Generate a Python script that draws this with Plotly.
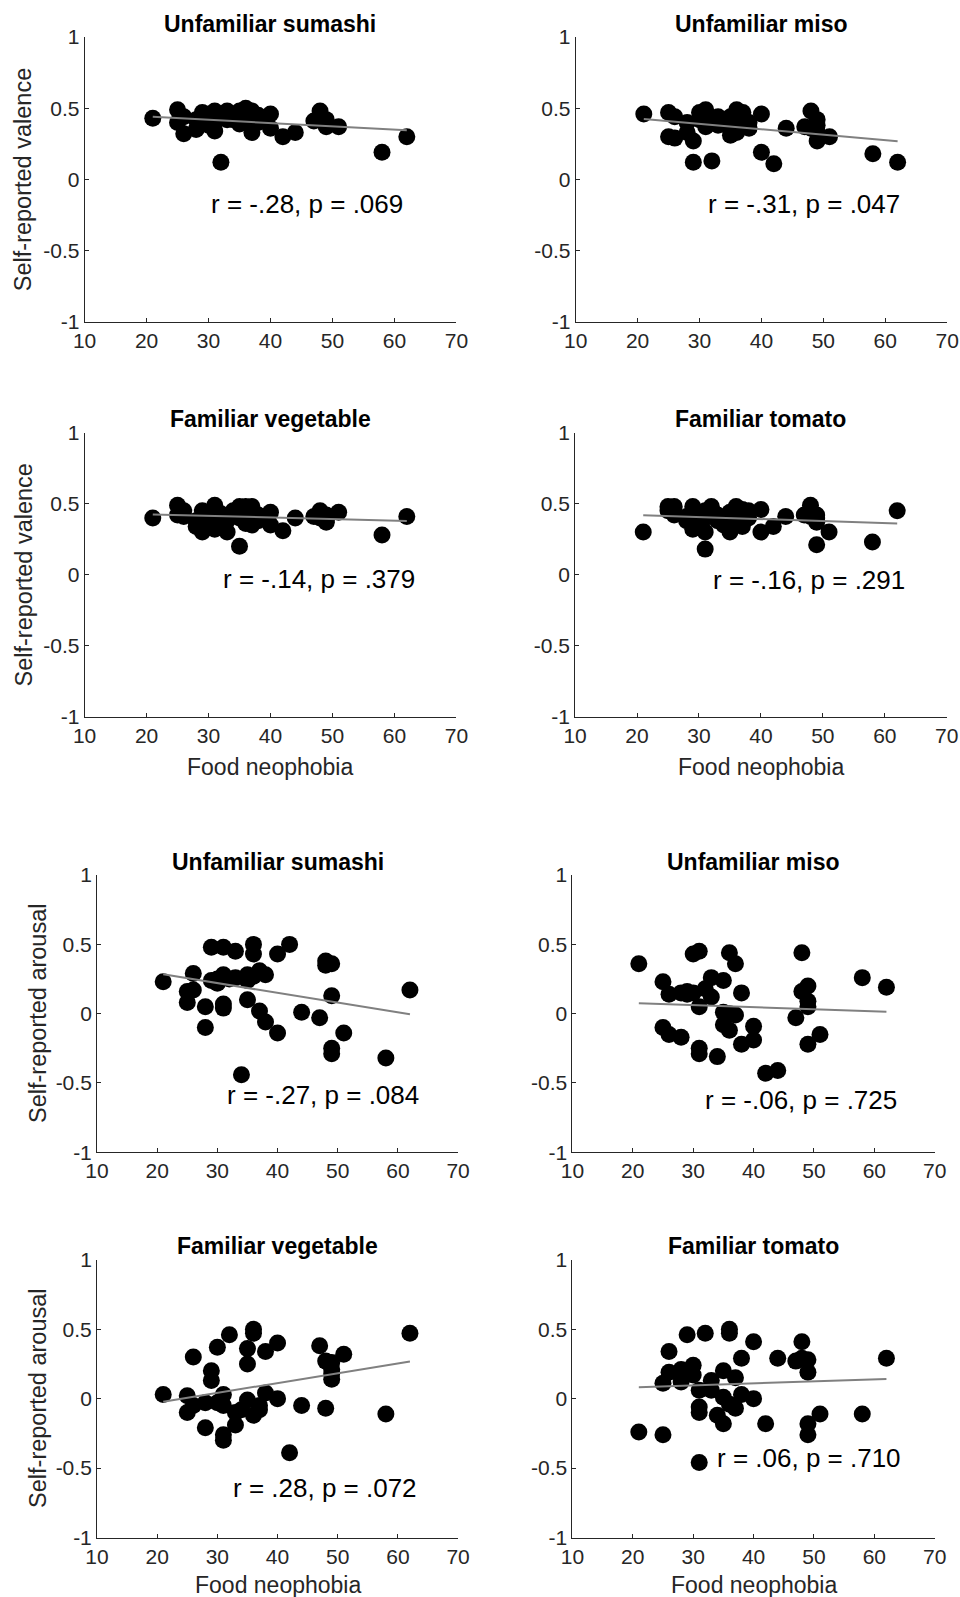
import plotly.graph_objects as go

# ---------------- data ----------------
neophobia = [21, 25, 25, 26, 26, 28, 28, 29, 29, 30, 30, 31, 31, 31, 31, 32, 33, 33, 34,
             35, 35, 35, 36, 36, 36, 37, 37, 38, 38, 40, 40, 42, 44, 47, 48, 48,
             49, 49, 49, 49, 51, 58, 62]

valence_sumashi = [0.43, 0.49, 0.40, 0.32, 0.44, 0.35, 0.42, 0.47, 0.40, 0.46, 0.38,
                   0.45, 0.34, 0.48, 0.40, 0.12, 0.48, 0.42, 0.42, 0.46, 0.39, 0.48,
                   0.47, 0.50, 0.41, 0.48, 0.33, 0.45, 0.40, 0.46, 0.36, 0.30, 0.33,
                   0.41, 0.48, 0.43, 0.37, 0.42, 0.38, 0.40, 0.37, 0.19, 0.30]
valence_miso = [0.46, 0.47, 0.30, 0.44, 0.29, 0.40, 0.33, 0.27, 0.12, 0.47, 0.42,
                0.49, 0.37, 0.45, 0.40, 0.13, 0.44, 0.38, 0.40, 0.31, 0.35, 0.44,
                0.49, 0.33, 0.45, 0.47, 0.37, 0.40, 0.36, 0.46, 0.19, 0.11, 0.36,
                0.37, 0.48, 0.36, 0.42, 0.27, 0.38, 0.33, 0.30, 0.18, 0.12]
valence_vegetable = [0.40, 0.49, 0.42, 0.45, 0.41, 0.34, 0.38, 0.45, 0.30, 0.36, 0.42,
                     0.49, 0.32, 0.40, 0.35, 0.43, 0.30, 0.38, 0.45, 0.48, 0.20, 0.40,
                     0.48, 0.36, 0.44, 0.48, 0.35, 0.42, 0.38, 0.44, 0.35, 0.31, 0.40,
                     0.41, 0.45, 0.40, 0.38, 0.42, 0.40, 0.37, 0.44, 0.28, 0.41]
valence_tomato = [0.30, 0.48, 0.45, 0.48, 0.42, 0.38, 0.41, 0.48, 0.32, 0.36, 0.42,
                  0.18, 0.30, 0.40, 0.45, 0.48, 0.38, 0.42, 0.35, 0.30, 0.44, 0.40,
                  0.48, 0.46, 0.38, 0.34, 0.46, 0.45, 0.40, 0.46, 0.30, 0.34, 0.41,
                  0.42, 0.49, 0.41, 0.40, 0.21, 0.37, 0.42, 0.30, 0.23, 0.45]
arousal_sumashi = [0.23, 0.16, 0.08, 0.29, 0.17, 0.05, -0.10, 0.48, 0.24, 0.22, 0.25,
                   0.48, 0.28, 0.07, 0.04, 0.25, 0.45, 0.26, -0.44, 0.28, 0.24, 0.10,
                   0.50, 0.43, 0.27, 0.31, 0.02, 0.28, -0.06, 0.43, -0.14, 0.50, 0.01,
                   -0.03, 0.38, 0.35, 0.36, 0.13, -0.25, -0.29, -0.14, -0.32, 0.17]
arousal_miso = [0.36, 0.23, -0.10, 0.14, -0.15, 0.15, -0.17, 0.16, 0.14, 0.43, 0.15,
                0.45, 0.05, -0.25, -0.29, 0.18, 0.26, 0.12, -0.31, 0.24, 0.01, -0.08,
                0.44, -0.12, 0.00, 0.36, -0.01, 0.15, -0.22, -0.09, -0.19, -0.43, -0.41,
                -0.03, 0.44, 0.16, 0.20, 0.09, 0.05, -0.22, -0.15, 0.26, 0.19]
arousal_vegetable = [0.03, 0.02, -0.10, 0.30, -0.05, -0.03, -0.21, 0.20, 0.13, 0.37, -0.03,
                     0.03, -0.05, -0.26, -0.30, 0.46, -0.19, -0.10, -0.08, 0.36, 0.25, -0.01,
                     0.50, 0.47, -0.12, -0.08, -0.05, 0.34, 0.04, 0.40, 0.00, -0.39, -0.05,
                     0.38, 0.27, -0.07, 0.26, 0.21, 0.14, 0.18, 0.32, -0.11, 0.47]
arousal_tomato = [-0.24, -0.26, 0.11, 0.34, 0.19, 0.21, 0.12, 0.46, 0.20, 0.24, 0.17,
                  0.06, -0.06, -0.10, -0.46, 0.47, 0.13, 0.06, -0.12, 0.20, 0.01, -0.18,
                  0.50, 0.47, -0.04, 0.15, -0.07, 0.29, 0.03, 0.41, 0.00, -0.18, 0.29,
                  0.27, 0.41, 0.29, 0.28, 0.19, -0.18, -0.26, -0.11, -0.11, 0.29]

# regression line end points (x = 21 and x = 62)
fit_x = [21, 62]
fit_valence_sumashi = [0.44, 0.345]
fit_valence_miso = [0.425, 0.268]
fit_valence_vegetable = [0.424, 0.379]
fit_valence_tomato = [0.419, 0.36]
fit_arousal_sumashi = [0.284, -0.005]
fit_arousal_miso = [0.075, 0.014]
fit_arousal_vegetable = [-0.022, 0.267]
fit_arousal_tomato = [0.082, 0.142]

titles = ["Unfamiliar sumashi", "Unfamiliar miso", "Familiar vegetable", "Familiar tomato",
          "Unfamiliar sumashi", "Unfamiliar miso", "Familiar vegetable", "Familiar tomato"]
stats = ["r = -.28, p = .069", "r = -.31, p = .047", "r = -.14, p = .379", "r = -.16, p = .291",
         "r = -.27, p = .084", "r = -.06, p = .725", "r = .28, p = .072", "r = .06, p = .710"]
stat_pos = [(30.1, -0.17), (31.1, -0.17), (32.0, -0.03), (32.0, -0.04),
            (31.2, -0.59), (31.6, -0.625), (32.3, -0.64), (33.6, -0.425)]
y_labels = ["Self-reported valence", "", "Self-reported valence", "",
            "Self-reported arousal", "", "Self-reported arousal", ""]
x_labels = ["", "", "Food neophobia", "Food neophobia",
            "", "", "Food neophobia", "Food neophobia"]
x_ticks = [10, 20, 30, 40, 50, 60, 70]
y_ticks = [-1, -0.5, 0, 0.5, 1]
y_tick_text = ["-1", "-0.5", "0", "0.5", "1"]

series = [valence_sumashi, valence_miso, valence_vegetable, valence_tomato,
          arousal_sumashi, arousal_miso, arousal_vegetable, arousal_tomato]
fits = [fit_valence_sumashi, fit_valence_miso, fit_valence_vegetable, fit_valence_tomato,
        fit_arousal_sumashi, fit_arousal_miso, fit_arousal_vegetable, fit_arousal_tomato]

# ---------------- layout geometry ----------------
W, H = 990, 1630
# observed mapping layout-px -> picture-px is roughly  a + s * L ; invert it
AX, SX = 10.7, 0.9756
AY, SY = 12.6, 0.9843


def px(xp):
    return ((xp - AX) / SX) / W


def py(yp):
    return 1 - ((yp - AY) / SY) / H


# (left, right, top, bottom) of each axes box in target picture pixels
boxes = [(83.3, 455.0, 37.7, 321.7), (574.3, 945.7, 37.7, 321.7),
         (83.3, 455.0, 432.7, 716.0), (573.7, 945.3, 432.7, 716.0),
         (95.7, 456.7, 874.3, 1151.0), (571.0, 933.3, 874.3, 1151.0),
         (95.7, 456.7, 1258.3, 1535.7), (571.0, 933.3, 1258.3, 1535.7)]
ylabel_x = [22.5, None, 22.5, None, 36.0, None, 36.0, None]
xlabel_y = [None, None, 766.0, 766.0, None, None, 1583.0, 1583.0]

FONT = "Liberation Sans, Arial, Helvetica, sans-serif"
AX_COLOR = "#262626"

fig = go.Figure()
layout = dict(width=W, height=H, margin=dict(l=0, r=0, t=0, b=0, pad=0),
              paper_bgcolor="white", plot_bgcolor="white", showlegend=False,
              font=dict(family=FONT, color=AX_COLOR))
annotations = []

for i in range(8):
    n = i + 1
    xa = "x" if n == 1 else f"x{n}"
    ya = "y" if n == 1 else f"y{n}"
    l, r, t, b = boxes[i]
    layout["xaxis" if n == 1 else f"xaxis{n}"] = dict(
        domain=[px(l), px(r)], anchor=ya, range=[10, 70], tickvals=x_ticks,
        showline=True, linecolor=AX_COLOR, linewidth=1, mirror=False,
        ticks="inside", ticklen=4, tickcolor=AX_COLOR, showgrid=False, zeroline=False,
        tickfont=dict(size=21, color=AX_COLOR, family=FONT), fixedrange=True)
    layout["yaxis" if n == 1 else f"yaxis{n}"] = dict(
        domain=[py(b), py(t)], anchor=xa, range=[-1, 1],
        tickvals=y_ticks, ticktext=y_tick_text,
        showline=True, linecolor=AX_COLOR, linewidth=1, mirror=False,
        ticks="inside", ticklen=4, tickcolor=AX_COLOR, showgrid=False, zeroline=False,
        tickfont=dict(size=21, color=AX_COLOR, family=FONT), fixedrange=True)

    fig.add_trace(go.Scatter(x=neophobia, y=series[i], mode="markers", xaxis=xa, yaxis=ya,
                             marker=dict(size=17, color="black", line=dict(width=0)),
                             cliponaxis=False))
    fig.add_trace(go.Scatter(x=fit_x, y=fits[i], mode="lines", xaxis=xa, yaxis=ya,
                             line=dict(color="#808080", width=2)))

    # title
    annotations.append(dict(text=f"<b>{titles[i]}</b>", xref="paper", yref="paper",
                            x=px((l + r) / 2), y=py(t - 13.5),
                            xanchor="center", yanchor="middle", showarrow=False,
                            font=dict(size=23, color="black", family=FONT)))
    # statistics text
    sx, sy = stat_pos[i]
    annotations.append(dict(text=stats[i], xref=xa, yref=ya, x=sx, y=sy,
                            xanchor="left", yanchor="middle", showarrow=False,
                            font=dict(size=26, color="black", family=FONT)))
    if y_labels[i]:
        annotations.append(dict(text=y_labels[i], xref="paper", yref="paper",
                                x=px(ylabel_x[i]), y=py((t + b) / 2), textangle=-90,
                                xanchor="center", yanchor="middle", showarrow=False,
                                font=dict(size=23.5, color=AX_COLOR, family=FONT)))
    if x_labels[i]:
        annotations.append(dict(text=x_labels[i], xref="paper", yref="paper",
                                x=px((l + r) / 2), y=py(xlabel_y[i]),
                                xanchor="center", yanchor="middle", showarrow=False,
                                font=dict(size=23, color=AX_COLOR, family=FONT)))

layout["annotations"] = annotations
fig.update_layout(**layout)
fig.write_html("out.html")
